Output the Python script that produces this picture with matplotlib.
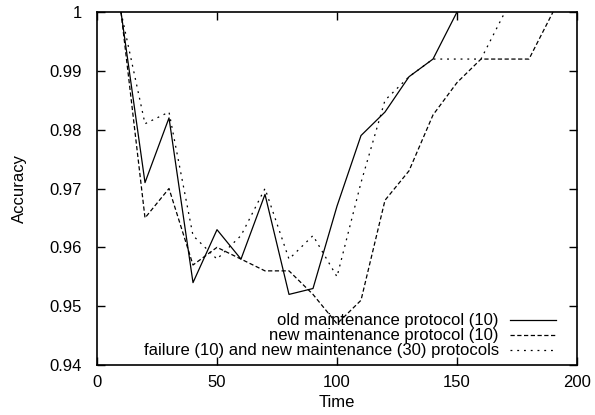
import numpy as np
import matplotlib
matplotlib.use('Agg')
import matplotlib.pyplot as plt

plt.rcParams['font.family'] = ['Liberation Sans', 'DejaVu Sans']

# old maintenance protocol (10)
time_old = [10, 20, 30, 40, 50, 60, 70, 80, 90, 100, 110, 120, 130, 140, 150]
acc_old = [1.0, 0.971, 0.982, 0.954, 0.963, 0.958, 0.969, 0.952, 0.953, 0.967,
           0.979, 0.983, 0.989, 0.992, 1.0]

# new maintenance protocol (10)
time_new = [10, 20, 30, 40, 50, 60, 70, 80, 90, 100, 110, 120, 130, 140, 150,
            160, 170, 180, 190]
acc_new = [1.0, 0.965, 0.970, 0.957, 0.960, 0.958, 0.956, 0.956, 0.952, 0.947,
           0.951, 0.968, 0.973, 0.9825, 0.988, 0.992, 0.992, 0.992, 1.0]

# failure (10) and new maintenance (30) protocols
time_fail = [10, 20, 30, 40, 50, 60, 70, 80, 90, 100, 110, 120, 130, 140, 150,
             160, 170]
acc_fail = [1.0, 0.981, 0.983, 0.962, 0.958, 0.962, 0.970, 0.958, 0.962, 0.955,
            0.971, 0.985, 0.989, 0.992, 0.992, 0.992, 1.0]

labels = ['old maintenance protocol (10)',
          'new maintenance protocol (10)',
          'failure (10) and new maintenance (30) protocols']

fig = plt.figure(figsize=(5.95, 4.15), dpi=100)
ax = fig.add_axes([97 / 595, 1 - 365 / 415, 480 / 595, 353 / 415])

ax.plot(time_old, acc_old, color='black', lw=0.9, label=labels[0])
ax.plot(time_new, acc_new, color='black', lw=0.9, dashes=(3.4, 2.0), label=labels[1])
ax.plot(time_fail, acc_fail, color='black', lw=0.9, dashes=(1.5, 3.9), label=labels[2])

ax.set_xlim(0, 200)
ax.set_ylim(0.94, 1.0)
ax.set_xticks([0, 50, 100, 150, 200])
ax.set_yticks(np.arange(0.94, 1.0001, 0.01))
ax.set_yticklabels(['0.94', '0.95', '0.96', '0.97', '0.98', '0.99', '1'])
ax.tick_params(direction='in', top=True, right=True, length=6, width=1,
               labelsize=12)
ax.tick_params(axis='y', pad=11)
ax.tick_params(axis='x', pad=7)
for s in ax.spines.values():
    s.set_linewidth(1.2)

ax.set_xlabel('Time', fontsize=12, labelpad=4)
ax.set_ylabel('Accuracy', fontsize=12, labelpad=16)

ax.legend(loc='lower right', frameon=False, markerfirst=False, fontsize=12,
          handlelength=2.8, handletextpad=0.66, labelspacing=0.0,
          borderaxespad=0.0, bbox_to_anchor=(1 - 14 / 480, 0.0))

fig.savefig('out.png', dpi=100)
